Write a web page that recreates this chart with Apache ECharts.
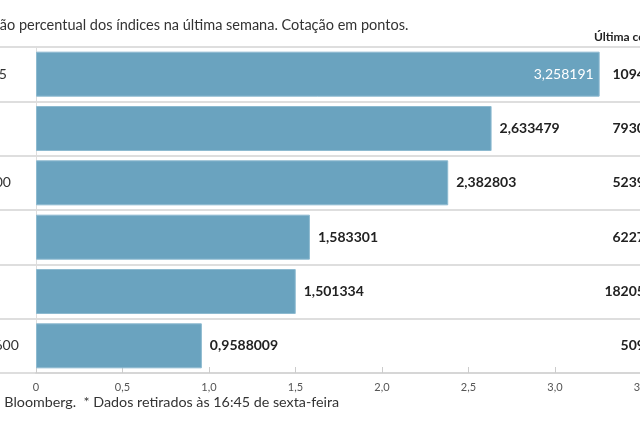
<!DOCTYPE html>
<html>
<head>
<meta charset="utf-8">
<script src="https://cdn.jsdelivr.net/npm/echarts@6/dist/echarts.min.js"></script>
<style>
  html, body { margin:0; padding:0; width:640px; height:426px; overflow:hidden; background:#fff; }
  #chart { position:absolute; left:-70px; top:0; width:800px; height:426px; }
</style>
</head>
<body>
<div id="chart"></div>
<script>
const indices = ['IBEX 35', 'FTSE', 'S&P 500', 'PSI', 'DAX', 'Stoxx 600'];
const weeklyChange = [3.258191, 2.633479, 2.382803, 1.583301, 1.501334, 0.9588009];
const lastQuote = [10940.6, 7930.96, 5239.76, 6227.69, 18205.94, 509.84];
const xTicks = [0, 0.5, 1.0, 1.5, 2.0, 2.5, 3.0, 3.5];

const subtitle = 'Variação percentual dos índices na última semana. Cotação em pontos.';
const header = 'Última cotação*';
const footer = 'Fonte: Bloomberg.  * Dados retirados às 16:45 de sexta-feira';

const FONT = 'Lato, "Open Sans", sans-serif';
const fmt = v => String(v).replace('.', ',');

const chart = echarts.init(document.getElementById('chart'), null, {renderer: 'canvas'});

const barData = weeklyChange.map(v => {
  const inside = v > 3;
  return {
    value: v,
    label: inside
      ? {position: 'insideRight', distance: 6, color: '#ffffff', fontWeight: 'normal'}
      : {position: 'right', distance: 8, color: '#222222', fontWeight: 'bold'}
  };
});

chart.setOption({
  animation: false,
  textStyle: {fontFamily: FONT},
  graphic: [
    {type: 'text', left: 31, top: 18, style: {text: subtitle, font: '14.5px ' + FONT, fill: '#333333'}},
    {type: 'text', left: 664, top: 31, style: {text: header, font: 'bold 12px ' + FONT, fill: '#222222'}},
    {type: 'text', left: 31, top: 395, style: {text: footer, font: '14.3px ' + FONT, fill: '#333333'}}
  ],
  grid: [
    {left: 106, top: 47, width: 605.5, height: 326},
    {left: 0, right: 0, top: 47, height: 326}
  ],
  xAxis: [
    {
      gridIndex: 0, type: 'value', min: 0, max: 3.5, interval: 0.5,
      axisLine: {show: true, lineStyle: {color: '#d6d6d6', width: 2}},
      axisTick: {show: true, inside: true, length: 6, lineStyle: {color: '#cccccc', width: 1}},
      splitLine: {show: false},
      axisLabel: {
        fontSize: 11, color: '#555555', margin: 9, fontFamily: FONT,
        formatter: v => (v === 0 ? '0' : v.toFixed(1).replace('.', ','))
      }
    },
    {gridIndex: 1, type: 'value', min: 0, max: 1, show: false}
  ],
  yAxis: [
    {
      gridIndex: 0, type: 'category', inverse: true, data: indices,
      axisLine: {show: true, lineStyle: {color: '#dddddd', width: 1}},
      axisTick: {show: false},
      splitLine: {show: false},
      axisLabel: {align: 'left', margin: 79, fontSize: 14, color: '#333333', fontFamily: FONT}
    },
    {
      gridIndex: 0, type: 'category', inverse: true, position: 'right',
      data: lastQuote.map(fmt),
      axisLine: {show: false}, axisTick: {show: false}, splitLine: {show: false},
      axisLabel: {align: 'right', margin: 23, fontSize: 14, fontWeight: 'bold', color: '#222222', fontFamily: FONT}
    },
    {
      gridIndex: 1, type: 'category', inverse: true, data: indices,
      axisLine: {show: false}, axisTick: {show: false}, axisLabel: {show: false},
      splitLine: {show: true, lineStyle: {color: '#dedede', width: 2}}
    }
  ],
  series: [
    {
      type: 'bar', xAxisIndex: 0, yAxisIndex: 0, barWidth: 45,
      itemStyle: {color: '#6aa3bf', borderColor: '#8dbad0', borderWidth: 1},
      label: {show: true, fontSize: 14, fontFamily: FONT, formatter: p => fmt(p.value)},
      data: barData, z: 3
    },
    {
      type: 'scatter', xAxisIndex: 1, yAxisIndex: 2, data: [], silent: true
    }
  ]
});
</script>
</body>
</html>
